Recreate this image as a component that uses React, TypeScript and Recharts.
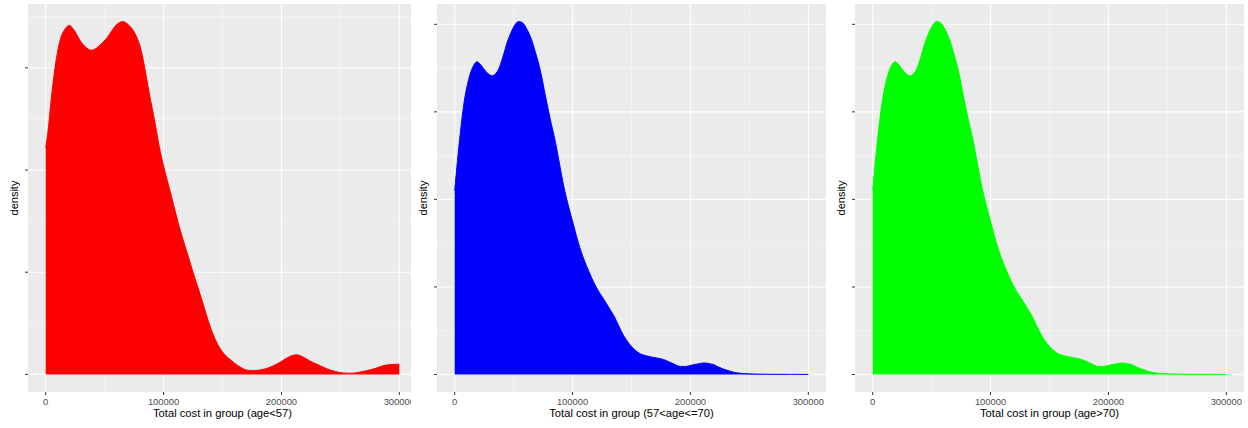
import React from 'react';
import { AreaChart, Area, XAxis, YAxis, CartesianGrid, Label } from 'recharts';

// Total cost (x) and estimated density (in units of 1e-6)
const costYoung = [0, 2000, 4000, 7000, 10000, 12500, 15000, 17500, 20000, 22500, 25000, 27500, 30000, 35000, 39000, 43000, 47000, 52000, 56000, 60000, 65500, 69000, 72000, 75000, 77500, 80000, 82000, 84000, 86000, 89000, 91500, 94000, 96500, 100000, 104000, 108500, 112000, 117000, 121000, 125000, 130000, 134000, 138000, 142000, 146000, 150000, 155000, 160000, 165000, 170000, 176000, 182000, 188000, 193000, 199000, 204000, 209000, 213000, 218000, 224000, 230000, 236000, 242000, 249000, 256000, 261000, 267000, 272000, 280000, 286000, 293000, 300000];
const densityYoung = [5.55, 5.95, 6.53, 7.3, 7.88, 8.2, 8.38, 8.49, 8.54, 8.48, 8.38, 8.25, 8.13, 7.98, 7.93, 7.98, 8.08, 8.23, 8.4, 8.55, 8.63, 8.58, 8.5, 8.38, 8.23, 8.03, 7.8, 7.5, 7.18, 6.7, 6.35, 5.95, 5.55, 5.1, 4.65, 4.15, 3.75, 3.25, 2.88, 2.5, 2.05, 1.68, 1.3, 0.98, 0.73, 0.55, 0.4, 0.28, 0.18, 0.11, 0.09, 0.11, 0.15, 0.21, 0.3, 0.39, 0.46, 0.48, 0.43, 0.33, 0.25, 0.17, 0.1, 0.05, 0.03, 0.03, 0.06, 0.09, 0.15, 0.21, 0.24, 0.25];

const costMiddle = [0, 4800, 7600, 11900, 15000, 19000, 22000, 24600, 28000, 31700, 34500, 37400, 41000, 44500, 48000, 51000, 54300, 58000, 61400, 65000, 68500, 73000, 77000, 81000, 85500, 89000, 92500, 97000, 101000, 105000, 109500, 114000, 118000, 122000, 126500, 131000, 135000, 139000, 143500, 148000, 152000, 157000, 163000, 170000, 177000, 184000, 191600, 196000, 201500, 206000, 211400, 216000, 220000, 224000, 228400, 233000, 237000, 241000, 245000, 255000, 270000, 285000, 300000];
const densityMiddle = [5.25, 6.9, 7.68, 8.43, 8.75, 8.93, 8.85, 8.73, 8.6, 8.53, 8.58, 8.73, 9.08, 9.48, 9.78, 9.98, 10.08, 10.03, 9.85, 9.58, 9.2, 8.63, 7.95, 7.3, 6.63, 6.0, 5.38, 4.75, 4.25, 3.75, 3.3, 2.93, 2.63, 2.38, 2.15, 1.9, 1.68, 1.4, 1.1, 0.88, 0.73, 0.6, 0.53, 0.48, 0.43, 0.33, 0.23, 0.23, 0.27, 0.3, 0.33, 0.31, 0.28, 0.21, 0.15, 0.1, 0.06, 0.04, 0.025, 0.012, 0.005, 0.003, 0.002];

const costOld = [0, 4800, 7600, 11900, 15000, 19000, 22000, 24600, 28000, 31700, 34500, 37400, 41000, 44500, 48000, 51000, 54300, 58000, 61400, 65000, 68500, 73000, 77000, 81000, 85500, 89000, 92500, 97000, 101000, 105000, 109500, 114000, 118000, 122000, 126500, 131000, 135000, 139000, 143500, 148000, 152000, 157000, 163000, 170000, 177000, 184000, 191600, 196000, 201500, 206000, 211400, 216000, 220000, 224000, 228400, 233000, 237000, 241000, 245000, 255000, 270000, 285000, 300000];
const densityOld = [5.25, 6.9, 7.68, 8.43, 8.75, 8.93, 8.85, 8.73, 8.6, 8.53, 8.58, 8.73, 9.08, 9.48, 9.78, 9.98, 10.08, 10.03, 9.85, 9.58, 9.2, 8.63, 7.95, 7.3, 6.63, 6.0, 5.38, 4.75, 4.25, 3.75, 3.3, 2.93, 2.63, 2.38, 2.15, 1.9, 1.68, 1.4, 1.1, 0.88, 0.73, 0.6, 0.53, 0.48, 0.43, 0.33, 0.23, 0.23, 0.27, 0.3, 0.33, 0.31, 0.28, 0.21, 0.15, 0.1, 0.06, 0.04, 0.025, 0.012, 0.005, 0.003, 0.002];

const xTicks = [0, 100000, 200000, 300000];
const xMinor = [50000, 150000, 250000];
const xDomain = [-15000, 315000];
const yTicksYoung = [0, 2.5, 5, 7.5];
const yTicksOther = [0, 2.5, 5, 7.5, 10];
const yMinor = [1.25, 3.75, 6.25, 8.75];
const yDomainYoung = [-0.43, 9.06];
const yDomainOther = [-0.5, 10.58];

const titles = [
  'Total cost in group (age<57)',
  'Total cost in group (57<age<=70)',
  'Total cost in group (age>70)',
];

const FONT = '"Liberation Sans", Arial, sans-serif';

const NoLabel = () => <g />;

type PanelProps = {
  left: number;
  clip?: number;
  costs: number[];
  dens: number[];
  color: string;
  yDomain: number[];
  yTicks: number[];
  title: string;
};

function Panel({ left, clip, costs, dens, color, yDomain, yTicks, title }: PanelProps) {
  const data = costs.map((c, i) => ({ cost: c, density: dens[i] }));
  return (
    <div
      style={{
        position: 'absolute',
        left,
        top: 0,
        width: clip ?? 420,
        height: 428,
        overflow: 'hidden',
      }}
    >
      <AreaChart
        width={420}
        height={428}
        data={data}
        margin={{ top: 4, right: 4, bottom: 0, left: 0 }}
        style={{ fontFamily: FONT }}
      >
        <CartesianGrid
          fill="#EBEBEB"
          stroke="#F7F7F7"
          strokeWidth={0.7}
          horizontalValues={yMinor}
          verticalValues={xMinor}
        />
        <CartesianGrid
          stroke="#FFFFFF"
          strokeWidth={1.1}
          horizontalValues={yTicks}
          verticalValues={xTicks}
        />
        <XAxis
          type="number"
          dataKey="cost"
          domain={xDomain}
          ticks={xTicks}
          allowDataOverflow
          axisLine={false}
          tickSize={3}
          tickMargin={3}
          tickLine={{ stroke: '#333333' }}
          tick={{ fill: '#4D4D4D', fontSize: 9.4, fontFamily: FONT }}
          height={36}
          interval={0}
        >
          <Label
            value={title}
            position="insideBottom"
            offset={11}
            fill="#000000"
            fontSize={11.2}
            fontFamily={FONT}
          />
        </XAxis>
        <YAxis
          type="number"
          domain={yDomain}
          ticks={yTicks}
          allowDataOverflow
          axisLine={false}
          tickSize={3}
          tickLine={{ stroke: '#333333' }}
          tick={NoLabel}
          width={27}
          interval={0}
        >
          <Label
            value="density"
            position="center"
            angle={-90}
            fill="#000000"
            fontSize={11}
            fontFamily={FONT}
          />
        </YAxis>
        <Area
          type="monotone"
          dataKey="density"
          stroke={color}
          strokeWidth={1}
          fill={color}
          fillOpacity={1}
          isAnimationActive={false}
          dot={false}
          activeDot={false}
        />
      </AreaChart>
    </div>
  );
}

export default function App() {
  return (
    <div
      style={{
        position: 'absolute',
        left: 0,
        top: 0,
        width: 1248,
        height: 428,
        background: '#FFFFFF',
        overflow: 'hidden',
      }}
    >
      <Panel
        left={1}
        clip={410}
        costs={costYoung}
        dens={densityYoung}
        color="#FF0000"
        yDomain={yDomainYoung}
        yTicks={yTicksYoung}
        title={titles[0]}
      />
      <Panel
        left={410}
        costs={costMiddle}
        dens={densityMiddle}
        color="#0000FF"
        yDomain={yDomainOther}
        yTicks={yTicksOther}
        title={titles[1]}
      />
      <Panel
        left={828}
        costs={costOld}
        dens={densityOld}
        color="#00FF00"
        yDomain={yDomainOther}
        yTicks={yTicksOther}
        title={titles[2]}
      />
    </div>
  );
}
